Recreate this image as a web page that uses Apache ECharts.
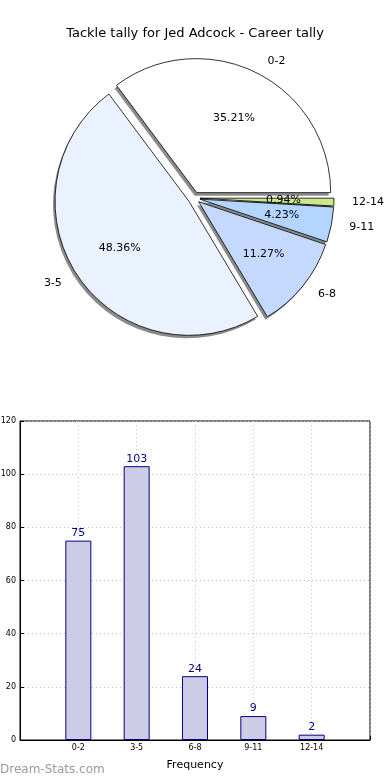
<!DOCTYPE html>
<html>
<head>
<meta charset="utf-8">
<script src="https://cdn.jsdelivr.net/npm/echarts@6/dist/echarts.min.js"></script>
<style>
html,body{margin:0;padding:0;background:#fff;}
#c{width:390px;height:780px;}
</style>
</head>
<body>
<div id="c"></div>
<script>
const titleText = 'Tackle tally for Jed Adcock - Career tally';
const categories = ['0-2', '3-5', '6-8', '9-11', '12-14'];
const values = [75, 103, 24, 9, 2];
const pieColors = ['#ffffff', '#ebf2ff', '#c5d9ff', '#b4d5ff', '#cce98a'];
const yTicks = [0, 20, 40, 60, 80, 100, 120];
const xAxisName = 'Frequency';
const watermark = 'Dream-Stats.com';

const FONT = 'DejaVu Sans';
const total = values.reduce((a, b) => a + b, 0);
const R = 134;
const CENTER = [194, 198];

const chart = echarts.init(document.getElementById('c'), null, {renderer: 'canvas'});

const pieData = categories.map((c, i) => ({
  name: c, value: values[i], selected: true,
  itemStyle: {color: pieColors[i]}
}));
const plainData = categories.map((c, i) => ({
  name: c, value: values[i], selected: true
}));

const pieCommon = {
  type: 'pie', startAngle: 0, clockwise: false,
  selectedMode: 'multiple', selectedOffset: 6,
  emphasis: {disabled: true}, silent: true, avoidLabelOverlap: false
};

chart.setOption({
  animation: false,
  title: {
    text: titleText, left: 'center', top: 22,
    textStyle: {fontFamily: FONT, fontSize: 13, fontWeight: 'normal', color: '#000'}
  },
  graphic: [{
    type: 'text', left: 0, top: 764,
    style: {text: watermark, fontFamily: FONT, fontSize: 12, fontWeight: 'normal', fill: '#9a9a9a'}
  }],
  grid: {left: 20, right: 20, top: 421, bottom: 40, show: true, borderColor: '#000', borderWidth: 1,
         containLabel: false, outerBoundsMode: 'none'},
  xAxis: {
    type: 'value', min: -1, max: 5, interval: 1,
    name: xAxisName, nameLocation: 'middle', nameGap: 20,
    nameTextStyle: {fontFamily: FONT, fontSize: 11, color: '#000'},
    axisLine: {show: true, onZero: false, lineStyle: {color: '#000'}},
    axisTick: {show: true, inside: true, length: 4, lineStyle: {color: '#000'}},
    axisLabel: {
      fontFamily: FONT, fontSize: 8, color: '#000', margin: 4,
      formatter: v => (v >= 0 && v < categories.length) ? categories[v] : ''
    },
    splitLine: {show: true, lineStyle: {color: '#c0c0c0', type: [1, 3]}}
  },
  yAxis: {
    type: 'value', min: 0, max: 120, interval: 20,
    axisLine: {show: true, onZero: false, lineStyle: {color: '#000'}},
    axisTick: {show: true, inside: true, length: 4, lineStyle: {color: '#000'}},
    axisLabel: {
      fontFamily: FONT, fontSize: 8, color: '#000', margin: 4,
      formatter: v => yTicks.includes(v) ? String(v) : ''
    },
    splitLine: {show: true, lineStyle: {color: '#c0c0c0', type: [1, 3]}}
  },
  series: [
    Object.assign({}, pieCommon, {
      center: [CENTER[0] - 2, CENTER[1] + 3], radius: [0, R], z: 1,
      itemStyle: {color: 'rgba(110,110,110,0.8)', borderWidth: 0},
      label: {show: false}, labelLine: {show: false},
      data: plainData
    }),
    Object.assign({}, pieCommon, {
      center: CENTER, radius: [0, R], z: 2,
      itemStyle: {borderColor: '#000', borderWidth: 0.8},
      label: {
        show: true, position: 'outside', alignTo: 'none',
        fontFamily: FONT, fontSize: 11, color: '#000',
        formatter: p => p.name
      },
      labelLine: {show: false, length: 13, length2: 0},
      data: pieData
    }),
    Object.assign({}, pieCommon, {
      center: CENTER, radius: [R * 0.2, R], z: 3,
      itemStyle: {color: 'rgba(0,0,0,0)', borderWidth: 0},
      label: {
        show: true, position: 'inside',
        fontFamily: FONT, fontSize: 11, color: '#000',
        formatter: p => (p.value / total * 100).toFixed(2) + '%'
      },
      labelLine: {show: false},
      data: plainData
    }),
    {
      type: 'bar',
      data: categories.map((c, i) => [i, values[i]]),
      barWidth: 26,
      itemStyle: {color: '#ccccE6', borderColor: '#000080', borderWidth: 1},
      label: {show: true, position: 'top', distance: 2, fontFamily: FONT, fontSize: 11, color: '#000080'},
      emphasis: {disabled: true}
    }
  ]
});
</script>
</body>
</html>
